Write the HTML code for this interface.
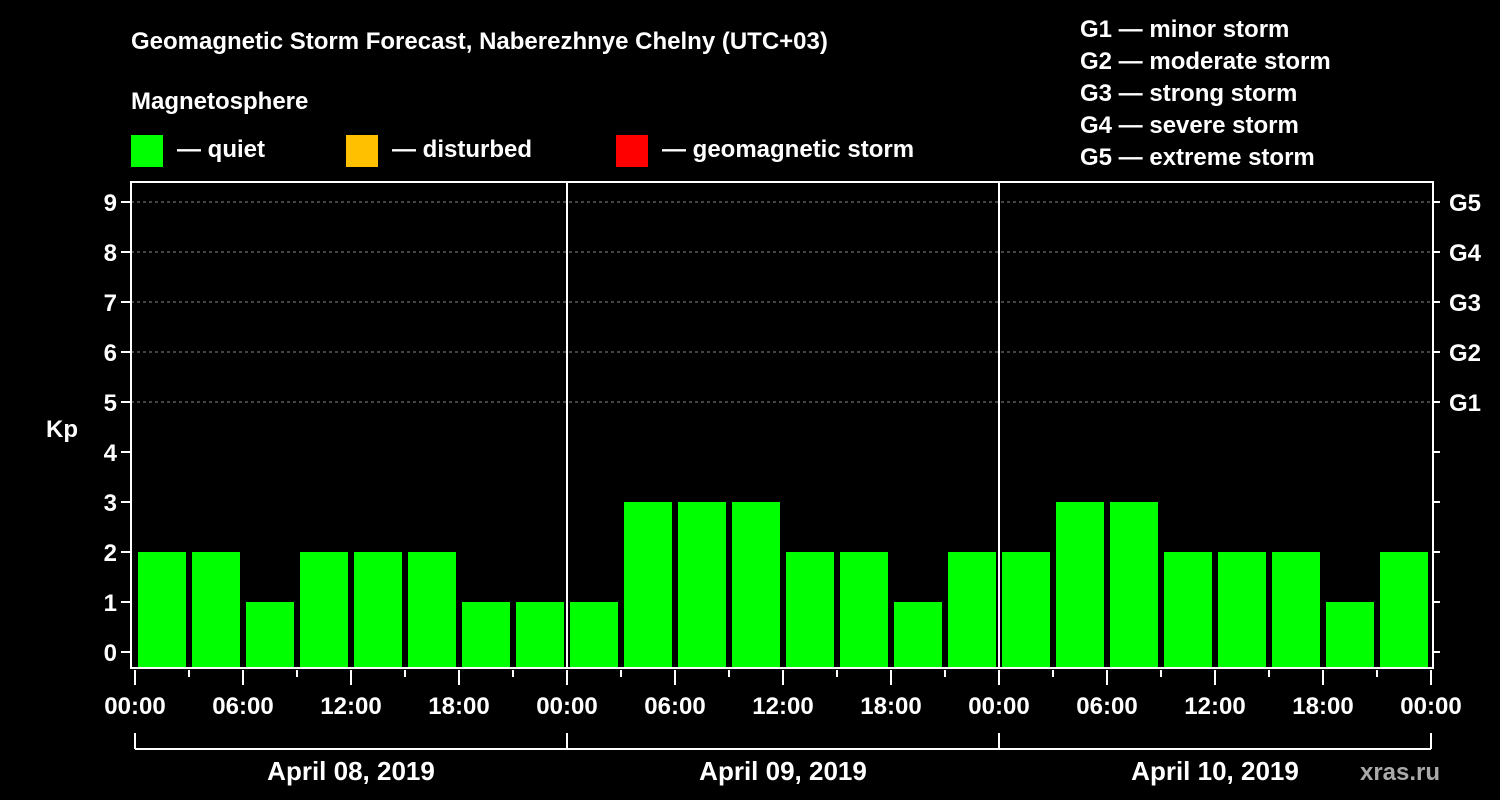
<!DOCTYPE html>
<html><head><meta charset="utf-8"><style>
html,body{margin:0;padding:0;background:#000;}
svg{display:block;font-family:"Liberation Sans",Arial,sans-serif;font-weight:bold;}
</style></head><body>
<svg id="chart" width="1500" height="800" viewBox="0 0 1500 800">
<rect x="0" y="0" width="1500" height="800" fill="#000"/>
<text x="131" y="49" fill="#fff" font-size="24">Geomagnetic Storm Forecast, Naberezhnye Chelny (UTC+03)</text>
<text x="131" y="109" fill="#fff" font-size="24">Magnetosphere</text>
<g><rect x="131" y="135" width="32" height="32" fill="#00ff00"/><text x="177" y="157" fill="#fff" font-size="24">— quiet</text></g>
<g><rect x="346" y="135" width="32" height="32" fill="#ffc000"/><text x="392" y="157" fill="#fff" font-size="24">— disturbed</text></g>
<g><rect x="616" y="135" width="32" height="32" fill="#ff0000"/><text x="662" y="157" fill="#fff" font-size="24">— geomagnetic storm</text></g>
<g fill="#fff" font-size="24">
<text x="1080" y="37">G1 — minor storm</text>
<text x="1080" y="69">G2 — moderate storm</text>
<text x="1080" y="101">G3 — strong storm</text>
<text x="1080" y="133">G4 — severe storm</text>
<text x="1080" y="165">G5 — extreme storm</text>
</g>
<text x="62" y="437" fill="#fff" font-size="24" text-anchor="middle">Kp</text>
<text x="1400" y="780" fill="#aaa" font-size="24" text-anchor="middle">xras.ru</text>
<g id="grid"></g><g id="bars"></g><g id="axes"></g>
</svg>
<script>
const days = ["April 08, 2019","April 09, 2019","April 10, 2019"];
const kpDay1 = [2,2,1,2,2,2,1,1];
const kpDay2 = [1,3,3,3,2,2,1,2];
const kpDay3 = [2,3,3,2,2,2,1,2];
const yTicks = [0,1,2,3,4,5,6,7,8,9];
const gLabels = ["G1","G2","G3","G4","G5"];
const gLevels = [5,6,7,8,9];
const hourLabels = ["00:00","06:00","12:00","18:00"];

const NS="http://www.w3.org/2000/svg";
const X0=135, DAYW=432, SLOT=54, LEFT=131, RIGHT=1433, TOP=182, BOT=668;
const y = v => 652 - v*50;
const x = (d,i) => X0 + d*DAYW + i*SLOT;
function mk(tag, attrs, parent, text){const e=document.createElementNS(NS,tag);for(const k in attrs)e.setAttribute(k,attrs[k]);if(text!==undefined)e.textContent=text;parent.appendChild(e);return e;}
const grid=document.getElementById('grid'), bars=document.getElementById('bars'), axes=document.getElementById('axes');

gLevels.forEach((lv)=>{
  const l=mk('line',{x1:LEFT,x2:RIGHT,y1:y(lv),y2:y(lv),stroke:'#888','stroke-dasharray':'3,3','stroke-width':1},grid);
  
  
});
[kpDay1,kpDay2,kpDay3].forEach((arr,d)=>{
  arr.forEach((v,i)=>{
    const col = v>=5?'#ff0000':(v>=4?'#ffc000':'#00ff00');
    const r=mk('rect',{x:x(d,i)+3,y:y(v),width:SLOT-6,height:BOT-y(v),fill:col},bars);
    
    
  });
});
// frame
const f=mk('rect',{x:LEFT,y:TOP,width:RIGHT-LEFT,height:BOT-TOP,fill:'none',stroke:'#fff','stroke-width':2},axes);


for(let d=1;d<days.length;d++){
  const s=mk('line',{x1:x(d,0),x2:x(d,0),y1:TOP,y2:BOT,stroke:'#fff','stroke-width':2},axes);
  
  
}
yTicks.forEach(v=>{
  mk('line',{x1:LEFT-10,x2:LEFT,y1:y(v),y2:y(v),stroke:'#fff','stroke-width':2},axes);
  mk('line',{x1:RIGHT,x2:RIGHT+7,y1:y(v),y2:y(v),stroke:'#fff','stroke-width':2},axes);
  const t=mk('text',{x:LEFT-14,y:y(v)+9,fill:'#fff','font-size':24,'text-anchor':'end'},axes,String(v));
  
  
});
gLevels.forEach((lv,i)=>{
  const t=mk('text',{x:1449,y:y(lv)+9,fill:'#fff','font-size':24},axes,gLabels[i]);
  
  
});
for(let d=0;d<=days.length;d++){
  for(let i=0;i<8;i++){
    if(d===days.length && i>0) break;
    const xx=x(d,i), major=i%2===0;
    mk('line',{x1:xx,x2:xx,y1:BOT+2,y2:BOT+(major?17:9),stroke:'#fff','stroke-width':2},axes);
    if(major){
      const t=mk('text',{x:xx,y:714,fill:'#fff','font-size':24,'text-anchor':'middle'},axes,hourLabels[i/2]);
      
      
    }
  }
}
mk('line',{x1:X0,x2:X0+DAYW*days.length,y1:749,y2:749,stroke:'#fff','stroke-width':2},axes);
for(let d=0;d<=days.length;d++){
  mk('line',{x1:x(d,0),x2:x(d,0),y1:733,y2:749,stroke:'#fff','stroke-width':2},axes);
}
days.forEach((lab,d)=>{
  const t=mk('text',{x:x(d,0)+DAYW/2,y:780,fill:'#fff','font-size':26,'text-anchor':'middle'},axes,lab);
  
  
});
</script>
</body></html>
